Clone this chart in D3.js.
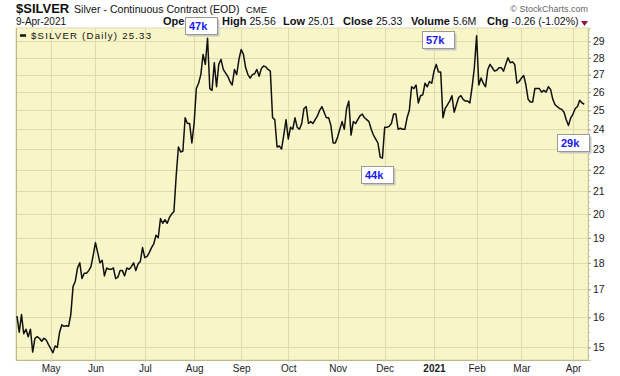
<!DOCTYPE html>
<html>
<head>
<meta charset="utf-8">
<script src="https://cdn.jsdelivr.net/npm/d3@7"></script>
<style>
body { margin: 0; background: #fff; }
text { font-family: Arial, "Liberation Sans", sans-serif; }
</style>
</head>
<body>
<svg id="chart"></svg>
<script>
const WIDTH = 620;
const HEIGHT = 376;

// trading days per month, first and last months are partial
const monthLabels = ["Apr", "May", "Jun", "Jul", "Aug", "Sep", "Oct", "Nov", "Dec", "2021", "Feb", "Mar", "Apr"];
const monthDays = [15, 20, 22, 22, 21, 21, 22, 21, 22, 19, 20, 23, 6];

// daily closes
const closes = [
	// Apr 2020
	16.05, 15.5, 16.1, 15.45, 15.6, 15.35, 15.6, 14.85, 15.3, 15.35, 15.3, 15.2, 15.3, 15.25, 15.1,
	// May
	14.97, 14.83, 15.05, 15.0, 15.5, 15.75, 15.7, 15.72, 15.7, 16.1, 17.1, 17.3, 17.8, 18.0, 17.4,
	17.6, 17.6, 17.7, 17.85, 18.3,
	// Jun
	18.8, 18.4, 18.0, 18.1, 17.5, 17.8, 17.75, 17.75, 17.8, 17.4, 17.45, 17.7, 17.7, 17.5, 17.8,
	17.75, 17.85, 18.0, 17.7, 17.95, 18.05, 18.6,
	// Jul
	18.2, 18.25, 18.4, 18.6, 18.75, 19.1, 19.0, 19.8, 19.6, 19.75, 19.6, 19.85, 20.0, 20.1, 21.7,
	23.1, 22.85, 22.9, 24.6, 24.3, 24.3, 23.3,
	// Aug
	24.3, 26.2, 26.5, 27.0, 28.2, 27.6, 29.2, 26.2, 26.1, 27.7, 26.3, 27.6, 27.9, 27.3, 27.1,
	26.9, 26.6, 26.4, 27.3, 27.0, 27.9,
	// Sep
	28.5, 28.2, 27.4, 27.0, 26.8, 27.0, 27.05, 27.3, 26.9, 27.35, 27.5, 27.45, 27.3, 27.2, 24.6,
	24.5, 23.1, 23.15, 23.0, 23.7, 24.5,
	// Oct
	23.5, 24.1, 24.0, 24.6, 24.1, 24.0, 24.3, 25.1, 25.2, 24.3, 24.4, 24.3, 24.5, 24.7, 25.0,
	25.2, 24.9, 24.6, 24.6, 24.2, 23.3, 23.3,
	// Nov
	23.6, 24.0, 24.4, 24.0, 25.1, 25.5, 23.7, 24.4, 24.3, 24.5, 24.7, 24.8, 24.6, 24.5, 24.4,
	24.0, 23.7, 23.5, 23.3, 22.6, 22.55,
	// Dec
	24.1, 24.1, 24.15, 24.3, 24.8, 24.8, 24.0, 24.05, 24.0, 24.0, 24.6, 25.0, 26.3, 26.2, 26.4,
	25.4, 25.8, 25.85, 26.5, 26.3, 26.6, 26.5,
	// Jan 2021
	27.2, 27.6, 27.15, 27.15, 24.6, 25.1, 25.3, 25.5, 25.8, 24.9, 25.3, 25.7, 25.8, 25.6, 25.5,
	25.5, 25.4, 26.3, 27.4,
	// Feb
	29.35, 26.4, 26.8, 26.5, 26.3, 27.3, 27.6, 27.4, 27.2, 27.25, 27.4, 27.4, 27.2, 27.6, 28.0,
	27.7, 27.75, 27.6, 26.5, 26.6,
	// Mar
	26.8, 26.95, 26.4, 25.6, 25.45, 25.45, 26.2, 26.2, 26.2, 26.0, 26.1, 26.0, 26.3, 26.15, 25.6,
	25.3, 25.2, 25.1, 25.05, 24.9, 24.5, 24.2, 24.6,
	// Apr 2021
	24.8, 25.1, 25.2, 25.55, 25.4, 25.33,
];

const yTicks = d3.range(15, 30);

// volume call-outs: day index and label
const annotIdx = [85, 187, 163, 246];
const annotLabels = ["47k", "57k", "44k", "29k"];
const annotOffsets = [[-22.6, -21.3], [-14, -33], [-21, 8], [-12, 9]];

// the open price sits under the 47k box in the picture, so it is left blank
const headerLabels = ["Open", "High", "Low", "Close", "Volume", "Chg"];
const headerValues = ["", "25.56", "25.01", "25.33", "5.6M", "-0.26 (-1.02%)"];
const HEADER_X = [163, 222, 283, 343, 411, 487];

const PLOT = { left: 16, right: 588, top: 28, bottom: 360 };
const BG = "#f8f6c8";
const GRID = "#dedcaa";
const BORDER = "#bcba86";

const svg = d3.select("#chart").attr("width", WIDTH).attr("height", HEIGHT);

const xScale = d3.scaleLinear([0, closes.length - 1], [17, 584.2]);
const yScale = d3.scaleLog([14.6, 29.85], [PLOT.bottom, PLOT.top]);

const monthStarts = d3.cumsum([0, ...monthDays.slice(0, -1)]);
const tickIdx = monthStarts.slice(1);
const tickLabels = monthLabels.slice(1);

// plot background
svg.append("rect")
	.attr("x", PLOT.left)
	.attr("y", PLOT.top)
	.attr("width", PLOT.right - PLOT.left)
	.attr("height", PLOT.bottom - PLOT.top)
	.attr("fill", BG)
	.attr("stroke", GRID);

// grid
svg.append("g")
	.selectAll("line")
	.data(yTicks)
	.join("line")
	.attr("x1", PLOT.left)
	.attr("x2", PLOT.right)
	.attr("y1", d => Math.round(yScale(d)) + 0.5)
	.attr("y2", d => Math.round(yScale(d)) + 0.5)
	.attr("stroke", GRID);

svg.append("g")
	.selectAll("line")
	.data(tickIdx)
	.join("line")
	.attr("x1", d => Math.round(xScale(d)) + 0.5)
	.attr("x2", d => Math.round(xScale(d)) + 0.5)
	.attr("y1", PLOT.top)
	.attr("y2", PLOT.bottom)
	.attr("stroke", GRID);

// left and bottom frame
svg.append("path")
	.attr("d", `M${PLOT.left + 0.5},${PLOT.top}V${PLOT.bottom + 0.5}H${PLOT.right}`)
	.attr("fill", "none")
	.attr("stroke", BORDER);

// x axis
const xAxis = svg.append("g")
	.attr("transform", `translate(0,${PLOT.bottom})`)
	.call(d3.axisBottom(xScale).tickValues(tickIdx).tickFormat((d, i) => tickLabels[i]).tickSize(2).tickPadding(3));
xAxis.select(".domain").remove();
xAxis.selectAll(".tick line").attr("stroke", "#ccc");
xAxis.selectAll("text")
	.attr("font-family", "Arial, 'Liberation Sans', sans-serif")
	.attr("font-size", 10)
	.attr("fill", "#222")
	.attr("font-weight", (d, i) => tickLabels[i] === "2021" ? "bold" : "normal");

// right axis, with small minor ticks
const minor = d3.range(14.75, 29.8, 0.25);
svg.append("g")
	.selectAll("line")
	.data(minor)
	.join("line")
	.attr("x1", PLOT.right)
	.attr("x2", PLOT.right + 2)
	.attr("y1", d => Math.round(yScale(d)) + 0.5)
	.attr("y2", d => Math.round(yScale(d)) + 0.5)
	.attr("stroke", "#c8c69a");

const yAxis = svg.append("g")
	.attr("transform", `translate(${PLOT.right},0)`)
	.call(d3.axisRight(yScale).tickValues(yTicks).tickFormat(d3.format("d")).tickSize(3).tickPadding(2));
yAxis.select(".domain").attr("stroke", "#c8c69a");
yAxis.selectAll(".tick line").attr("stroke", "#a8a67a");
yAxis.selectAll("text")
	.attr("font-family", "Arial, 'Liberation Sans', sans-serif")
	.attr("font-size", 10.5)
	.attr("fill", "#222");

// price line
const line = d3.line()
	.x((d, i) => xScale(i))
	.y(d => yScale(d));

svg.append("path")
	.datum(closes)
	.attr("d", line)
	.attr("fill", "none")
	.attr("stroke", "#111")
	.attr("stroke-width", 1.5)
	.attr("stroke-linejoin", "round");

// legend
svg.append("line")
	.attr("x1", 20).attr("x2", 26)
	.attr("y1", 35.5).attr("y2", 35.5)
	.attr("stroke", "#111")
	.attr("stroke-width", 2.5);
svg.append("text")
	.attr("x", 31)
	.attr("y", 39)
	.attr("font-family", "'DejaVu Sans', Verdana, sans-serif")
	.attr("font-size", 9.6)
	.attr("textLength", 120)
	.attr("lengthAdjust", "spacing")
	.attr("fill", "#111")
	.text(`$SILVER (Daily) ${closes[closes.length - 1].toFixed(2)}`);

// header
svg.append("text")
	.attr("x", 16).attr("y", 13)
	.attr("font-size", 13).attr("font-weight", "bold").attr("fill", "#111")
	.text("$SILVER");
svg.append("text")
	.attr("x", 74).attr("y", 13)
	.attr("font-size", 10.6).attr("fill", "#111")
	.text("Silver - Continuous Contract (EOD)");
svg.append("text")
	.attr("x", 246).attr("y", 13)
	.attr("font-size", 9.5).attr("fill", "#111")
	.text("CME");
svg.append("text")
	.attr("x", 16).attr("y", 25)
	.attr("font-size", 10).attr("fill", "#111")
	.text("9-Apr-2021");

headerLabels.forEach((label, i) => {
	const t = svg.append("text")
		.attr("x", HEADER_X[i]).attr("y", 25)
		.attr("font-size", 11).attr("font-weight", "bold").attr("fill", "#111")
		.text(label);
	if (!headerValues[i]) return;
	const w = t.node().getComputedTextLength();
	svg.append("text")
		.attr("x", HEADER_X[i] + w + 3).attr("y", 25)
		.attr("font-size", 10.5).attr("fill", "#111")
		.text(headerValues[i]);
});
svg.append("path")
	.attr("d", "M581,21H588L584.5,26Z")
	.attr("fill", "#8b1538");

svg.append("text")
	.attr("x", 588).attr("y", 12)
	.attr("text-anchor", "end")
	.attr("font-family", "'DejaVu Sans', Verdana, sans-serif")
	.attr("font-size", 9)
	.attr("fill", "#666")
	.text("\u00a9 StockCharts.com");

// volume call-out boxes
const boxes = svg.append("g")
	.selectAll("g")
	.data(annotIdx)
	.join("g")
	.attr("transform", (d, i) => {
		const bx = Math.round(xScale(d) + annotOffsets[i][0]);
		const by = Math.round(yScale(closes[d]) + annotOffsets[i][1]);
		return `translate(${bx},${by})`;
	});
boxes.append("rect")
	.attr("x", 2.5).attr("y", 2.5)
	.attr("width", 32).attr("height", 17)
	.attr("fill", "#c8c8c0");
boxes.append("rect")
	.attr("x", 0.5).attr("y", 0.5)
	.attr("width", 32).attr("height", 17)
	.attr("fill", "#fff")
	.attr("stroke", "#999");
boxes.append("text")
	.attr("x", 4).attr("y", 13)
	.attr("font-size", 11)
	.attr("font-weight", "bold")
	.attr("fill", "#1a1aee")
	.text((d, i) => annotLabels[i]);
</script>
</body>
</html>
